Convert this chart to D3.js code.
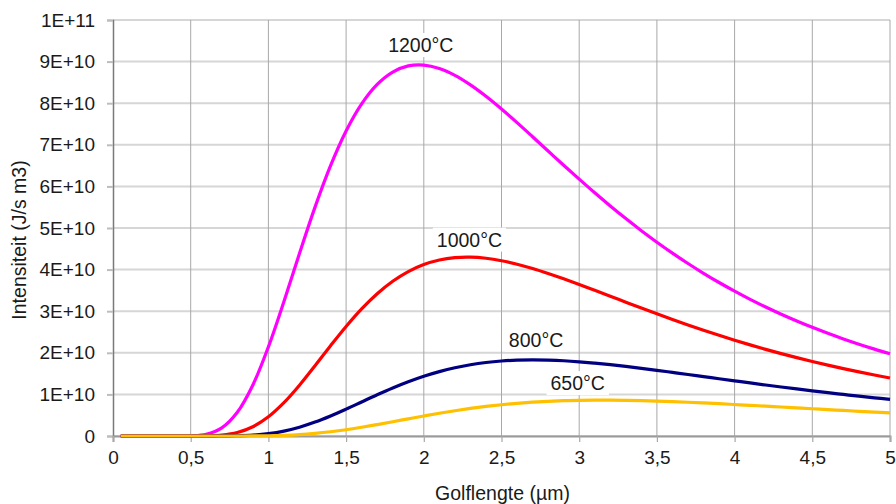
<!DOCTYPE html>
<html>
<head>
<meta charset="utf-8">
<script src="https://cdn.jsdelivr.net/npm/d3@7"></script>
<style>
  html, body { margin: 0; padding: 0; background: #ffffff; }
  svg { display: block; }
  text { font-family: "Liberation Sans", Arial, Helvetica, sans-serif; fill: #1a1a1a; }
</style>
</head>
<body>
<svg id="chart" width="896" height="504"></svg>
<script>
// ---------- data (intensity in units of 1E+10 J/s m3) ----------
const wavelengths = [0.05, 0.1, 0.2, 0.3, 0.4,
  0.5, 0.6, 0.7, 0.8, 0.9, 1.0, 1.1, 1.2, 1.3, 1.4, 1.5, 1.6, 1.7, 1.8, 1.9,
  2.0, 2.1, 2.2, 2.3, 2.4, 2.5, 2.6, 2.7, 2.8, 2.9, 3.0, 3.1, 3.2, 3.3, 3.4,
  3.5, 3.6, 3.7, 3.8, 3.9, 4.0, 4.1, 4.2, 4.3, 4.4, 4.5, 4.6, 4.7, 4.8, 4.9, 5.0];

const t1200 = [0, 0, 0, 0, 0,
  0.004, 0.041, 0.194, 0.569, 1.226, 2.143, 3.234, 4.388, 5.501, 6.498, 7.332, 7.983, 8.451, 8.748, 8.896,
  8.917, 8.833, 8.668, 8.440, 8.166, 7.860, 7.533, 7.194, 6.851, 6.509, 6.174, 5.846, 5.530, 5.226, 4.935,
  4.659, 4.396, 4.147, 3.912, 3.690, 3.482, 3.285, 3.101, 2.927, 2.765, 2.612, 2.468, 2.334, 2.208, 2.089, 1.978];

const t1000 = [0, 0, 0, 0, 0,
  0.000, 0.003, 0.022, 0.084, 0.223, 0.462, 0.801, 1.221, 1.689, 2.170, 2.633, 3.055, 3.420, 3.720, 3.953,
  4.122, 4.232, 4.289, 4.300, 4.273, 4.214, 4.130, 4.027, 3.908, 3.779, 3.643, 3.502, 3.360, 3.217, 3.075,
  2.937, 2.801, 2.669, 2.542, 2.420, 2.303, 2.190, 2.083, 1.980, 1.883, 1.790, 1.703, 1.619, 1.540, 1.465, 1.394];

const t800 = [0, 0, 0, 0, 0,
  0.000, 0.000, 0.001, 0.006, 0.021, 0.056, 0.118, 0.211, 0.334, 0.482, 0.646, 0.818, 0.990, 1.153, 1.302,
  1.435, 1.547, 1.640, 1.713, 1.767, 1.803, 1.824, 1.830, 1.824, 1.809, 1.784, 1.752, 1.715, 1.673, 1.627,
  1.579, 1.529, 1.479, 1.428, 1.377, 1.326, 1.275, 1.226, 1.178, 1.131, 1.085, 1.041, 0.999, 0.957, 0.918, 0.880];

const t650 = [0, 0, 0, 0, 0,
  0.000, 0.000, 0.000, 0.000, 0.002, 0.006, 0.016, 0.034, 0.063, 0.102, 0.151, 0.210, 0.275, 0.343, 0.413,
  0.482, 0.548, 0.608, 0.663, 0.711, 0.752, 0.786, 0.813, 0.834, 0.849, 0.858, 0.862, 0.861, 0.857, 0.849,
  0.839, 0.826, 0.811, 0.794, 0.776, 0.757, 0.738, 0.717, 0.697, 0.676, 0.655, 0.635, 0.614, 0.594, 0.574, 0.555];

const seriesNames = ["1200°C", "1000°C", "800°C", "650°C"];
const UNIT = 1e10;

const xTickValues = [0, 0.5, 1, 1.5, 2, 2.5, 3, 3.5, 4, 4.5, 5];
const xTickLabels = ["0", "0,5", "1", "1,5", "2", "2,5", "3", "3,5", "4", "4,5", "5"];
const yTickValues = [0, 1e10, 2e10, 3e10, 4e10, 5e10, 6e10, 7e10, 8e10, 9e10, 1e11];
const yTickLabels = ["0", "1E+10", "2E+10", "3E+10", "4E+10", "5E+10", "6E+10", "7E+10", "8E+10", "9E+10", "1E+11"];

const xTitle = "Golflengte (µm)";
const yTitle = "Intensiteit (J/s m3)";

// ---------- styles / layout ----------
const seriesColors = ["#ff00ff", "#ff0000", "#000080", "#ffc000"];
const labelOffsets = [[-3, -13], [-1, -10.5], [3.5, -13], [-17, -10]]; // px from the curve's peak

const plot = { left: 113, right: 890, top: 20, bottom: 436 };

const svg = d3.select("#chart");
const x = d3.scaleLinear().domain([0, 5]).range([plot.left, plot.right]);
const y = d3.scaleLinear().domain([0, 1e11]).range([plot.bottom, plot.top]);

// horizontal gridlines
svg.append("g").selectAll("line").data(yTickValues).join("line")
  .attr("x1", plot.left).attr("x2", plot.right)
  .attr("y1", d => y(d)).attr("y2", d => y(d))
  .attr("stroke", "#d6d6d6").attr("stroke-width", 2);

// vertical gridlines
svg.append("g").selectAll("line").data(xTickValues.slice(1)).join("line")
  .attr("x1", d => x(d)).attr("x2", d => x(d))
  .attr("y1", plot.top).attr("y2", plot.bottom)
  .attr("stroke", "#a8a8a8").attr("stroke-width", 1);

// y axis
const yAxis = d3.axisLeft(y).tickValues(yTickValues)
  .tickFormat((d, i) => yTickLabels[i]).tickSize(6).tickPadding(12);
const gy = svg.append("g").attr("transform", `translate(${plot.left},0)`).call(yAxis);
gy.select(".domain").attr("stroke", "#7a7a7a").attr("stroke-width", 1.5);
gy.selectAll(".tick line").attr("stroke", "#bdbdbd").attr("stroke-width", 2);
gy.selectAll(".tick text").attr("font-size", 19).attr("fill", "#1a1a1a")
  .attr("font-family", "'Liberation Sans', Arial, sans-serif");

// x axis
const xAxis = d3.axisBottom(x).tickValues(xTickValues)
  .tickFormat((d, i) => xTickLabels[i]).tickSize(6).tickPadding(9);
const gx = svg.append("g").attr("transform", `translate(0,${plot.bottom})`).call(xAxis);
gx.select(".domain").attr("stroke", "#9a9a9a").attr("stroke-width", 2);
gx.selectAll(".tick line").attr("stroke", "#a8a8a8").attr("stroke-width", 1.2);
gx.selectAll(".tick text").attr("font-size", 19).attr("fill", "#1a1a1a")
  .attr("font-family", "'Liberation Sans', Arial, sans-serif");

// axis titles
svg.append("text").attr("x", (plot.left + plot.right) / 2 + 1).attr("y", 500)
  .attr("text-anchor", "middle").attr("font-size", 19.5).text(xTitle);
svg.append("text").attr("transform", "translate(25.5,240) rotate(-90)")
  .attr("text-anchor", "middle").attr("font-size", 19.5).text(yTitle);

// series
const allSeries = [t1200, t1000, t800, t650].map((vals, i) => ({
  name: seriesNames[i],
  color: seriesColors[i],
  points: wavelengths.map((w, j) => ({ w, v: vals[j] * UNIT }))
}));

const line = d3.line().x(d => x(d.w)).y(d => y(d.v)).curve(d3.curveCatmullRom.alpha(0.5));

svg.append("g").selectAll("path").data(allSeries).join("path")
  .attr("d", d => line(d.points))
  .attr("fill", "none")
  .attr("stroke", d => d.color)
  .attr("stroke-width", 3.2)
  .attr("stroke-linejoin", "round");

// labels at each curve's peak
const lg = svg.append("g");
allSeries.forEach((s, i) => {
  const peak = s.points.reduce((a, b) => (b.v > a.v ? b : a));
  const px = x(peak.w) + labelOffsets[i][0];
  const py = y(peak.v) + labelOffsets[i][1];
  const g = lg.append("g");
  const t = g.append("text").attr("x", px).attr("y", py)
    .attr("text-anchor", "middle").attr("font-size", 19.5).text(s.name);
  const bb = t.node().getBBox();
  g.insert("rect", "text")
    .attr("x", bb.x - 4).attr("y", bb.y - 1)
    .attr("width", bb.width + 8).attr("height", bb.height + 2)
    .attr("fill", "#ffffff");
});
</script>
</body>
</html>
